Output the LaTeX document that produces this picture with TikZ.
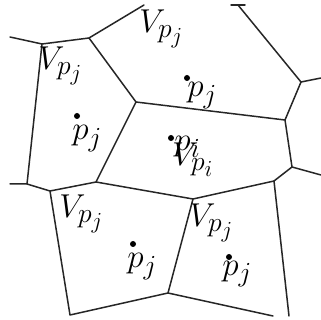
\documentclass[tikz,border=0pt]{standalone}
\begin{document}
\begin{tikzpicture}[x=1pt,y=-1pt,
  edge/.style={line width=1.5pt,black!85,line cap=round,line join=round},
  site/.style={circle,fill=black,inner sep=0pt,minimum size=6pt},
  lab/.style={inner sep=0pt,anchor=base west,scale=1.33,font=\Huge}]
\useasboundingbox (0,0) rectangle (321,320);
% vertices
\coordinate (A) at (42,44);
\coordinate (B) at (89,38);
\coordinate (C) at (136,102);
\coordinate (D) at (301,82);
\coordinate (E) at (285,120);
\coordinate (F) at (27,184);
\coordinate (G) at (50,191);
\coordinate (H) at (96,182);
\coordinate (I) at (70,315);
\coordinate (J) at (193,199);
\coordinate (K) at (274,181);
\coordinate (L) at (292,167);
\coordinate (M) at (168,293);
\coordinate (T1) at (144,5);
\coordinate (T2) at (238,5);
\coordinate (T2a) at (231,5);
\coordinate (T2b) at (245,5);
\coordinate (eA) at (10,37);
\coordinate (eF) at (10,184);
\coordinate (eD) at (321,78);
\coordinate (eL) at (321,175);
\coordinate (eK) at (289,316);
\coordinate (eM) at (273,316);
% edges
\draw[edge] (eA) -- (A) -- (B) -- (T1);
\draw[edge] (B) -- (C) -- (E);
\draw[edge] (A) -- (F) -- (eF);
\draw[edge] (C) -- (H);
\draw[edge] (F) -- (G) -- (H) -- (J) -- (K) -- (L) -- (E) -- (D) -- (eD);
\draw[edge] (L) -- (eL);
\draw[edge] (D) -- (T2);
\draw[edge] (T2a) -- (T2b);
\draw[edge] (G) -- (I) -- (M) -- (eM);
\draw[edge] (J) -- (M);
\draw[edge] (K) -- (eK);
% sites
\node[site] (s1) at (77,116) {};
\node[site] (s2) at (187,78) {};
\node[site] (s3) at (171,138) {};
\node[site] (s4) at (133,244) {};
\node[site] (s5) at (229,257) {};
% labels
\node[lab] (v1) at (139,33) {$V_{p_j}$};
\node[lab] (v2) at (38,70) {$V_{p_j}$};
\node[lab] (v3) at (59,218) {$V_{p_j}$};
\node[lab] (v4) at (189,227) {$V_{p_j}$};
\node[lab] (v5) at (172,166) {$V_{p_i}$};
\node[lab] (p1) at (72,140) {$p_j$};
\node[lab] (p2) at (187,97) {$p_j$};
\node[lab] (p3) at (174,151) {$p_i$};
\node[lab] (p4) at (127,268) {$p_j$};
\node[lab] (p5) at (222,275) {$p_j$};
\end{tikzpicture}
\end{document}
